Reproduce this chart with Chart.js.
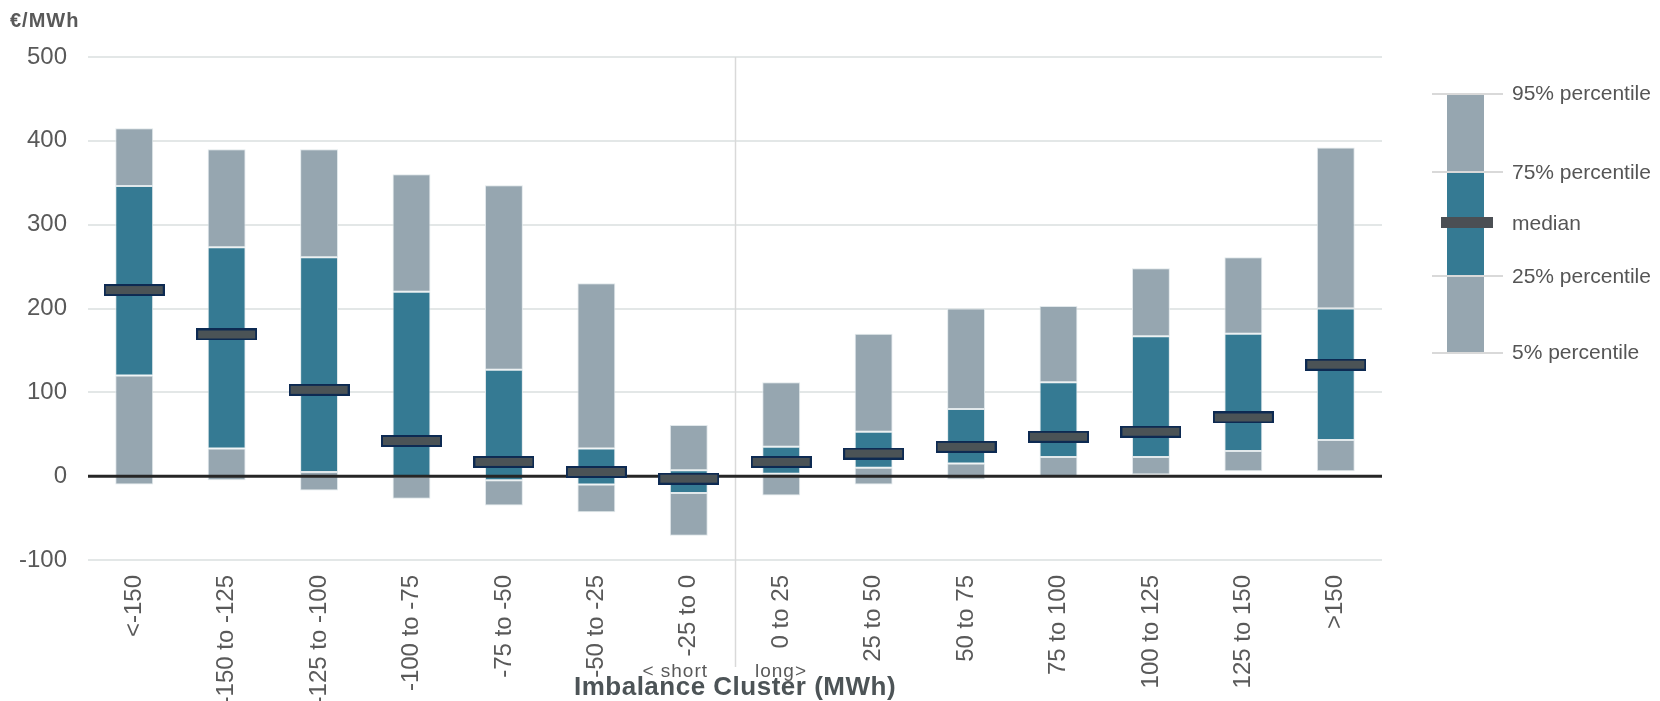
<!DOCTYPE html>
<html>
<head>
<meta charset="utf-8">
<title>Imbalance price distribution by cluster</title>
<script src="https://cdn.jsdelivr.net/npm/chart.js@4.4.1/dist/chart.umd.min.js"></script>
<style>
  html, body { margin: 0; padding: 0; background: #ffffff; }
  #wrap { width: 1660px; height: 701px; }
</style>
</head>
<body>
<div id="wrap"><canvas id="chart" width="1660" height="701"></canvas></div>
<script>
// Imbalance clusters (MWh), short side on the left, long side on the right
const clusters = ['<-150', '-150 to -125', '-125 to -100', '-100 to -75', '-75 to -50', '-50 to -25', '-25 to 0',
                  '0 to 25', '25 to 50', '50 to 75', '75 to 100', '100 to 125', '125 to 150', '>150'];

// Price percentiles per cluster (€/MWh)
const p5     = [-10,  -5, -17, -27, -35, -43, -71, -23, -10,  -4,  -1,   2,   6,   6];
const p25    = [120,  33,   5,  -1,  -5, -10, -20,   3,  10,  15,  23,  23,  30,  43];
const median = [222, 169, 103,  42,  17,   5,  -3,  17,  27,  35,  47,  53,  70, 133];
const p75    = [346, 273, 261, 220, 127,  33,   7,  35,  53,  80, 112, 167, 170, 200];
const p95    = [415, 390, 390, 360, 347, 230,  61, 112, 170, 200, 203, 248, 261, 392];

// Value axis ticks
const yTicks = [-100, 0, 100, 200, 300, 400, 500];

const GREY = '#96a6b0';
const TEAL = '#357a93';
const TEXT = '#595959';
const FONT = "'Liberation Sans', Arial, sans-serif";

// Median marker: dark bar with navy outline
function medianMarker(w, h) {
  const c = document.createElement('canvas');
  c.width = w; c.height = h;
  const g = c.getContext('2d');
  g.fillStyle = '#0d2a52';
  g.fillRect(0, 0, w, h);
  g.fillStyle = '#4b5356';
  g.fillRect(2, 2, w - 4, h - 4);
  return c;
}

const range = (lo, hi) => lo.map((v, i) => [v, hi[i]]);

const barStyle = (color) => ({
  backgroundColor: color,
  borderColor: 'rgba(222,229,233,0.9)',
  borderWidth: 1,
  borderSkipped: false,
  grouped: false,
  barPercentage: 0.41,
  categoryPercentage: 1.0,
  order: 1
});

const overlay = {
  id: 'overlay',
  beforeDatasetsDraw(chart) {
    const ctx = chart.ctx, x = chart.scales.x;
    // short / long divider
    const sx = Math.round((x.getPixelForValue(6) + x.getPixelForValue(7)) / 2) + 0.5;
    ctx.save();
    ctx.strokeStyle = '#d9d9d9';
    ctx.lineWidth = 1.5;
    ctx.beginPath();
    ctx.moveTo(sx, chart.chartArea.top);
    ctx.lineTo(sx, 667);
    ctx.stroke();
    ctx.restore();
  },
  beforeDatasetDraw(chart, args) {
    if (args.index !== 0) return;
    // zero line above the boxes, below the medians
    const ctx = chart.ctx, y0 = chart.scales.y.getPixelForValue(0);
    ctx.save();
    ctx.strokeStyle = '#262626';
    ctx.lineWidth = 3;
    ctx.beginPath();
    ctx.moveTo(chart.chartArea.left, y0);
    ctx.lineTo(chart.chartArea.right, y0);
    ctx.stroke();
    ctx.restore();
  },
  afterDraw(chart) {
    const ctx = chart.ctx, x = chart.scales.x, area = chart.chartArea;
    const sx = (x.getPixelForValue(6) + x.getPixelForValue(7)) / 2;
    ctx.save();
    ctx.textBaseline = 'alphabetic';

    // unit label
    ctx.fillStyle = TEXT;
    ctx.font = 'bold 20px ' + FONT;
    ctx.letterSpacing = '1px';
    ctx.textAlign = 'left';
    ctx.fillText('€/MWh', 10, 27);

    // side hints
    ctx.font = '19px ' + FONT;
    ctx.letterSpacing = '1px';
    ctx.textAlign = 'right';
    ctx.fillText('< short', sx - 27, 677);
    ctx.textAlign = 'left';
    ctx.fillText('long>', sx + 20, 677);

    // axis title
    ctx.fillStyle = '#4d5457';
    ctx.font = 'bold 26px ' + FONT;
    ctx.letterSpacing = '0.5px';
    ctx.textAlign = 'center';
    ctx.fillText('Imbalance Cluster (MWh)', (area.left + area.right) / 2, 695);

    // key
    ctx.letterSpacing = '0px';
    ctx.fillStyle = GREY;
    ctx.fillRect(1447, 95, 37, 257);
    ctx.fillStyle = TEAL;
    ctx.fillRect(1447, 172, 37, 104);
    ctx.strokeStyle = '#d9d9d9';
    ctx.lineWidth = 2;
    [94, 172, 276, 353].forEach(yy => {
      ctx.beginPath();
      ctx.moveTo(1432, yy);
      ctx.lineTo(1503, yy);
      ctx.stroke();
    });
    ctx.fillStyle = '#4b4f54';
    ctx.fillRect(1441, 217, 52, 11);

    ctx.fillStyle = '#555555';
    ctx.font = '21px ' + FONT;
    ctx.textAlign = 'left';
    ctx.textBaseline = 'middle';
    [['95% percentile', 94], ['75% percentile', 173], ['median', 224],
     ['25% percentile', 277], ['5% percentile', 353]].forEach(([t, yy]) => {
      ctx.fillText(t, 1512, yy);
    });
    ctx.restore();
  }
};

new Chart(document.getElementById('chart'), {
  type: 'bar',
  data: {
    labels: clusters,
    datasets: [
      {
        type: 'line',
        label: 'median',
        data: median,
        showLine: false,
        pointStyle: medianMarker(61, 12),
        pointRadius: 6,
        pointHoverRadius: 6,
        order: 0
      },
      Object.assign({ label: '25% - 75%', data: range(p25, p75) }, barStyle(TEAL)),
      Object.assign({ label: '75% - 95%', data: range(p75, p95) }, barStyle(GREY)),
      Object.assign({ label: '5% - 25%', data: range(p5, p25) }, barStyle(GREY))
    ]
  },
  options: {
    responsive: false,
    devicePixelRatio: 1,
    animation: false,
    layout: { padding: { top: 57, right: 278, bottom: 0, left: 0 } },
    plugins: { legend: { display: false }, tooltip: { enabled: false } },
    scales: {
      x: {
        grid: { display: false, drawTicks: false },
        border: { display: false },
        ticks: {
          autoSkip: false,
          minRotation: 90,
          maxRotation: 90,
          padding: 15,
          color: TEXT,
          font: { family: FONT, size: 24 }
        },
        afterFit(scale) { scale.height = 141; }
      },
      y: {
        min: yTicks[0],
        max: yTicks[yTicks.length - 1],
        afterBuildTicks(scale) { scale.ticks = yTicks.map(v => ({ value: v })); },
        grid: { color: '#e3e7e7', lineWidth: 2, drawTicks: false },
        border: { display: false },
        ticks: {
          padding: 21,
          color: TEXT,
          font: { family: FONT, size: 24 }
        },
        afterFit(scale) { scale.width = 88; }
      }
    }
  },
  plugins: [overlay]
});
</script>
</body>
</html>
